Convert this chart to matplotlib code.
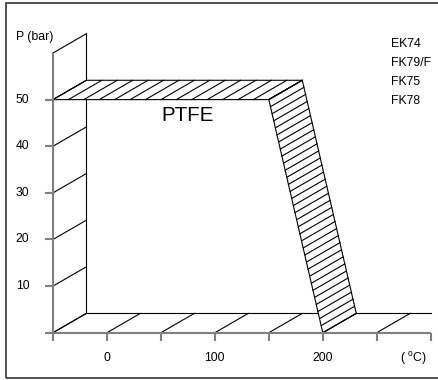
import matplotlib
matplotlib.use("Agg")
import matplotlib.pyplot as plt
from matplotlib.patches import Polygon, Rectangle
import numpy as np

plt.rcParams['font.family'] = ['Liberation Sans', 'DejaVu Sans']
plt.rcParams['mathtext.fontset'] = 'custom'
plt.rcParams['mathtext.rm'] = 'Liberation Sans'

# ---- data ----
temp_ticks = [-50, 0, 50, 100, 150, 200, 250, 300]
temp_labels = ['', '0', '', '100', '', '200', '', '']
pressure_ticks = [0, 10, 20, 30, 40, 50, 60]
pressure_labels = ['', '10', '20', '30', '40', '50', '']
ptfe_temp = [-50, 150, 200]
ptfe_pressure = [50, 50, 0]
materials = ['EK74', 'FK79/F', 'FK75', 'FK78']
region_label = 'PTFE'
x_unit = '( $^{\\rm o}$C)'
y_unit = 'P (bar)'

# ---- geometry / style ----
DX, DY = 31.0, 4.15          # pseudo-3D depth offset in data units
W, H = 438, 380
PX_PER_T = 377.7 / 350.0
PX_PER_P = 279.7 / 60.0
X0PX, Y0PX = 53.0, 332.7     # pixel position of (-50, 0)
GRAY = '#808080'
LW_BLACK = 0.8
LW_GRAY = 1.5

fig = plt.figure(figsize=(W / 100, H / 100), dpi=100)
ax = fig.add_axes([0, 0, 1, 1])
ax.set_xlim(-50 + (0 - X0PX) / PX_PER_T, -50 + (W - X0PX) / PX_PER_T)
ax.set_ylim(-(H - Y0PX) / PX_PER_P, Y0PX / PX_PER_P)
ax.axis('off')

tmin, tmax = temp_ticks[0], temp_ticks[-1]
pmin, pmax = pressure_ticks[0], pressure_ticks[-1]

# back wall lines
ax.plot([tmin + DX, tmin + DX], [pmin + DY, pmax + DY], color='black', lw=LW_BLACK, zorder=1)
ax.plot([tmin + DX, tmax], [pmin + DY, pmin + DY], color='black', lw=LW_BLACK, zorder=1)
# depth diagonals from pressure ticks
for p in pressure_ticks:
    ax.plot([tmin, tmin + DX], [p, p + DY], color='black', lw=LW_BLACK, zorder=1)
# depth diagonals from temperature ticks
for t in temp_ticks[:-1]:
    ax.plot([t, t + DX], [pmin, pmin + DY], color='black', lw=LW_BLACK, zorder=1)

# PTFE band (extruded polyline) with hatching
n_hatch = [14, 33]
for i in range(len(ptfe_temp) - 1):
    t1, p1 = ptfe_temp[i], ptfe_pressure[i]
    t2, p2 = ptfe_temp[i + 1], ptfe_pressure[i + 1]
    poly = Polygon([(t1, p1), (t2, p2), (t2 + DX, p2 + DY), (t1 + DX, p1 + DY)],
                   closed=True, facecolor='white', edgecolor='black', lw=LW_BLACK, zorder=2)
    ax.add_patch(poly)
    for s in np.linspace(0, 1, n_hatch[i] + 1):
        tt = t1 + s * (t2 - t1)
        pp = p1 + s * (p2 - p1)
        ax.plot([tt, tt + DX], [pp, pp + DY], color='black', lw=LW_BLACK, zorder=2.5)

# front axes (gray)
ax.plot([tmin, tmax], [pmin, pmin], color=GRAY, lw=LW_GRAY, zorder=3, solid_capstyle='butt')
ax.plot([tmin, tmin], [pmin - 1.7, pmax], color=GRAY, lw=LW_GRAY, zorder=3, solid_capstyle='butt')
for t in temp_ticks:
    ax.plot([t, t], [pmin, pmin - 1.7], color=GRAY, lw=LW_GRAY, zorder=3, solid_capstyle='butt')
for p in pressure_ticks[:-1]:
    ax.plot([tmin - 7.4, tmin], [p, p], color=GRAY, lw=LW_GRAY, zorder=3, solid_capstyle='butt')

FS = 8.8
for p, lab in zip(pressure_ticks, pressure_labels):
    if lab:
        ax.text(-72.0, p, lab, ha='right', va='center', fontsize=FS)
for t, lab in zip(temp_ticks, temp_labels):
    if lab:
        ax.text(t, -5.5, lab, ha='center', va='center', fontsize=FS)
ax.text(283.6, -5.5, x_unit, ha='center', va='center', fontsize=FS)
ax.text(-84.0, 63.4, y_unit, ha='left', va='center', fontsize=FS)

ax.text(74.5, 46.7, region_label, ha='center', va='center', fontsize=14.8)

for k, m in enumerate(materials):
    ax.text(263.2, 62.0 - k * 4.07, m, ha='left', va='center', fontsize=FS)

# outer frame
fig.patches.append(Rectangle((5.5 / W, 1 - 378.3 / H), 1.2, (378.3 - 2.7) / H,
                             transform=fig.transFigure, fill=False,
                             edgecolor='#333333', lw=1.2))

fig.savefig('out.png', dpi=100)
